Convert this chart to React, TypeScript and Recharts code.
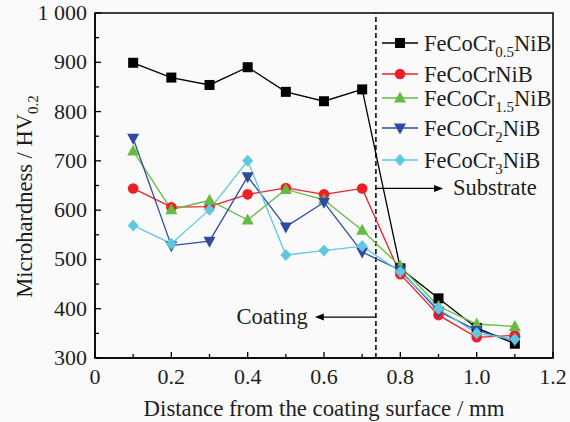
import React from "react";
import {
  Line,
  LineChart,
  ReferenceArea,
  ReferenceLine,
  XAxis,
  YAxis,
} from "recharts";

const FONT = '"Liberation Serif", "Times New Roman", serif';
const INK = "#1e1e1e";

// distance from coating surface (mm)
const DISTANCE = [0.1, 0.2, 0.3, 0.4, 0.5, 0.6, 0.7, 0.8, 0.9, 1.0, 1.1];

// microhardness HV0.2 per alloy
const CR_05 = [899, 869, 854, 890, 840, 821, 845, 482, 421, 361, 329];
const CR_10 = [644, 606, 607, 632, 645, 632, 644, 470, 387, 342, 346];
const CR_15 = [720, 601, 620, 580, 642, 621, 559, 486, 405, 369, 364];
const CR_20 = [746, 528, 537, 668, 566, 616, 515, 478, 395, 356, 335];
const CR_30 = [569, 532, 601, 700, 509, 518, 527, 475, 400, 350, 338];

const X_TICKS = [0, 0.1, 0.2, 0.3, 0.4, 0.5, 0.6, 0.7, 0.8, 0.9, 1.0, 1.1, 1.2];
const Y_TICKS = [300, 350, 400, 450, 500, 550, 600, 650, 700, 750, 800, 850, 900, 950, 1000];

const INTERFACE_X = 0.736;

const SERIES = [
  { key: "cr05", sub: "0.5", color: "#000000", marker: "square", values: CR_05 },
  { key: "cr10", sub: "", color: "#ee2027", marker: "circle", values: CR_10 },
  { key: "cr15", sub: "1.5", color: "#66bb44", marker: "up", values: CR_15 },
  { key: "cr20", sub: "2", color: "#2d4b9f", marker: "down", values: CR_20 },
  { key: "cr30", sub: "3", color: "#5fc8df", marker: "diamond", values: CR_30 },
];

const data = DISTANCE.map((d, i) => {
  const row: Record<string, number> = { d };
  SERIES.forEach((s) => {
    row[s.key] = s.values[i];
  });
  return row;
});

function Marker({ shape, cx, cy, color }: any) {
  if (cx == null || cy == null) return null;
  switch (shape) {
    case "square":
      return <rect x={cx - 5} y={cy - 5} width={10} height={10} fill={color} />;
    case "circle":
      return <circle cx={cx} cy={cy} r={5.3} fill={color} />;
    case "up":
      return (
        <polygon
          points={`${cx},${cy - 6.5} ${cx + 6},${cy + 4.5} ${cx - 6},${cy + 4.5}`}
          fill={color}
        />
      );
    case "down":
      return (
        <polygon
          points={`${cx},${cy + 6.5} ${cx + 6},${cy - 4.5} ${cx - 6},${cy - 4.5}`}
          fill={color}
        />
      );
    default:
      return (
        <polygon
          points={`${cx},${cy - 6} ${cx + 5.5},${cy} ${cx},${cy + 6} ${cx - 5.5},${cy}`}
          fill={color}
        />
      );
  }
}

function YTick({ x, y, payload }: any) {
  const v = payload.value;
  const major = v % 100 === 0;
  return (
    <g>
      <line x1={x} x2={x + (major ? 6 : 4)} y1={y} y2={y} stroke="#000" strokeWidth={1.3} />
      {major && (
        <text x={x - 8} y={y + 7} textAnchor="end" fontSize={22} fontFamily={FONT} fill={INK}>
          {v === 1000 ? "1 000" : v}
        </text>
      )}
    </g>
  );
}

function XTick({ x, y, payload }: any) {
  const v = payload.value;
  const major = Math.round(v * 10) % 2 === 0;
  return (
    <g>
      <line x1={x} x2={x} y1={y} y2={y - (major ? 6 : 4)} stroke="#000" strokeWidth={1.3} />
      {major && (
        <text x={x} y={y + 26} textAnchor="middle" fontSize={22} fontFamily={FONT} fill={INK}>
          {v === 0 ? "0" : v.toFixed(1)}
        </text>
      )}
    </g>
  );
}

function arrowShape(text: string, side: "left" | "right") {
  return (props: any) => {
    const { x1, y1, x2, y2 } = props;
    const dir = x2 > x1 ? 1 : -1;
    const tipX = x2;
    return (
      <g>
        <line x1={x1} y1={y1} x2={tipX - dir * 6} y2={y2} stroke="#000" strokeWidth={1.3} />
        <polygon
          points={`${tipX},${y2} ${tipX - dir * 9},${y2 - 3.5} ${tipX - dir * 9},${y2 + 3.5}`}
          fill="#000"
        />
        <text
          x={side === "right" ? tipX + 10 : tipX - 7}
          y={y2 + 7}
          textAnchor={side === "right" ? "start" : "end"}
          fontSize={22.5}
          fontFamily={FONT}
          fill={INK}
        >
          {text}
        </text>
      </g>
    );
  };
}

function YTitle({ viewBox }: any) {
  const cx = viewBox.x + 32;
  const cy = viewBox.y + viewBox.height / 2 + 11;
  return (
    <text
      x={cx}
      y={cy}
      transform={`rotate(-90, ${cx}, ${cy})`}
      textAnchor="middle"
      fontSize={22.5}
      fontFamily={FONT}
      fill={INK}
    >
      Microhardness / HV
      <tspan fontSize={15} dy={6}>
        0.2
      </tspan>
    </text>
  );
}

function XTitle({ viewBox }: any) {
  return (
    <text
      x={viewBox.x + viewBox.width / 2}
      y={viewBox.y + 58}
      textAnchor="middle"
      fontSize={22.8}
      fontFamily={FONT}
      fill={INK}
    >
      Distance from the coating surface / mm
    </text>
  );
}

const LEGEND_ROWS = [43, 74, 98, 128, 160];

function LegendBox() {
  return (
    <svg
      width={570}
      height={422}
      style={{ position: "absolute", left: 0, top: 0, pointerEvents: "none" }}
    >
      {SERIES.map((s, i) => {
        const cy = LEGEND_ROWS[i];
        return (
          <g key={s.key}>
            <line x1={382} x2={418} y1={cy} y2={cy} stroke={s.color} strokeWidth={1.3} />
            <Marker shape={s.marker} cx={400} cy={cy} color={s.color} />
            <text x={424} y={cy + 8} fontSize={22.5} fontFamily={FONT} fill={INK}>
              FeCoCr
              {s.sub && (
                <tspan fontSize={15} dy={6}>
                  {s.sub}
                </tspan>
              )}
              <tspan dy={s.sub ? -6 : 0}>NiB</tspan>
            </text>
          </g>
        );
      })}
    </svg>
  );
}

export default function App() {
  return (
    <div
      style={{
        position: "absolute",
        left: 0,
        top: 0,
        width: 570,
        height: 422,
        background: "#fafafa",
      }}
    >
      <LineChart
        width={570}
        height={422}
        data={data}
        margin={{ top: 13, right: 17, left: 0, bottom: 0 }}
      >
        <XAxis
          dataKey="d"
          type="number"
          domain={[0, 1.2]}
          ticks={X_TICKS}
          interval={0}
          height={64}
          tickSize={0}
          tickMargin={0}
          tickLine={false}
          tick={<XTick />}
          axisLine={{ stroke: "#000", strokeWidth: 1.5 }}
          label={{ content: <XTitle /> } as any}
        />
        <YAxis
          type="number"
          domain={[300, 1000]}
          ticks={Y_TICKS}
          interval={0}
          width={95}
          tickSize={0}
          tickMargin={0}
          tickLine={false}
          tick={<YTick />}
          axisLine={{ stroke: "#000", strokeWidth: 1.5 }}
          label={{ content: <YTitle /> } as any}
        />
        <ReferenceArea
          x1={0}
          x2={1.2}
          y1={300}
          y2={1000}
          fill="none"
          fillOpacity={0}
          stroke="#000"
          strokeWidth={1.5}
        />
        <ReferenceLine
          x={INTERFACE_X}
          stroke="#000"
          strokeWidth={1.5}
          strokeDasharray="5 3"
        />
        <ReferenceLine
          segment={[
            { x: INTERFACE_X, y: 644 },
            { x: 0.912, y: 644 },
          ]}
          shape={arrowShape("Substrate", "right")}
        />
        <ReferenceLine
          segment={[
            { x: INTERFACE_X, y: 383 },
            { x: 0.576, y: 383 },
          ]}
          shape={arrowShape("Coating", "left")}
        />
        {SERIES.map((s) => (
          <Line
            key={s.key}
            dataKey={s.key}
            stroke={s.color}
            strokeWidth={1.3}
            isAnimationActive={false}
            dot={(p: any) => (
              <Marker
                key={`${s.key}-${p.index}`}
                shape={s.marker}
                cx={p.cx}
                cy={p.cy}
                color={s.color}
              />
            )}
            activeDot={false}
          />
        ))}
      </LineChart>
      <LegendBox />
    </div>
  );
}
